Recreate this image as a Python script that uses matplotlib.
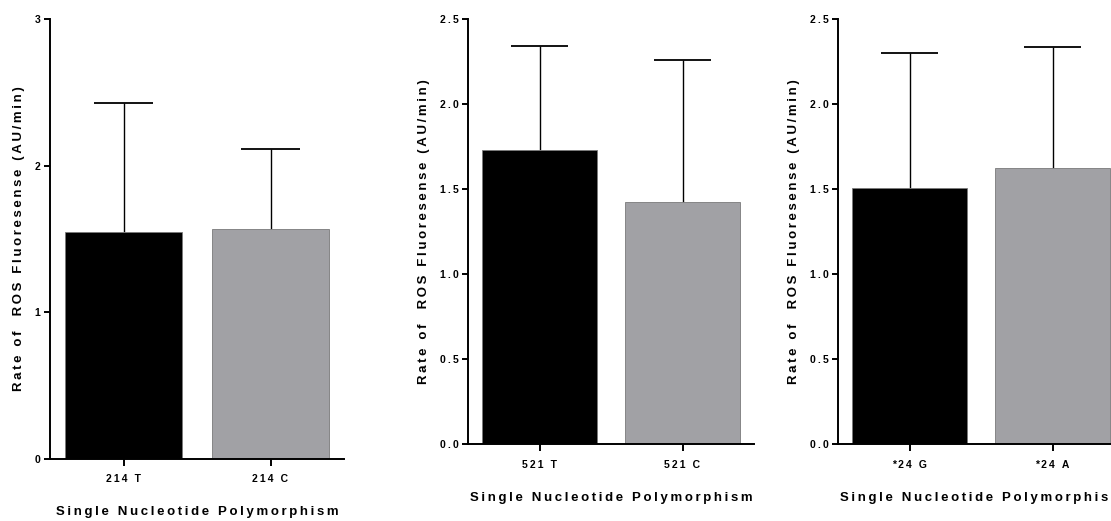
import numpy as np
import matplotlib.pyplot as plt

plt.rcParams['font.family'] = ['Liberation Sans', 'DejaVu Sans']
plt.rcParams['font.weight'] = 'bold'

# --- data
labels_214 = ['214 T', '214 C']
mean_214 = [1.545, 1.566]
sd_214 = [0.885, 0.55]

labels_521 = ['521 T', '521 C']
mean_521 = [1.732, 1.424]
sd_521 = [0.61, 0.833]

labels_24 = ['*24 G', '*24 A']
mean_24 = [1.505, 1.626]
sd_24 = [0.795, 0.711]

colors = ['#000000', '#a1a1a5']
ylab = 'Rate of  ROS Fluoresense (AU/min)'
xlab = 'Single Nucleotide Polymorphism'

def spaced(s):
    # prism style letter spacing
    return '\u2009'.join(s)

W, H = 1111, 521
fig = plt.figure(figsize=(W / 100, H / 100), dpi=100)

def px_axes(left, right, top, bottom):
    return fig.add_axes([left / W, 1 - bottom / H, (right - left) / W, (bottom - top) / H])

panels = [
    (px_axes(50, 344, 19, 459), labels_214, mean_214, sd_214, [0, 1, 2, 3], ['0', '1', '2', '3'], 3),
    (px_axes(468, 754, 19, 444.3), labels_521, mean_521, sd_521,
     [0, 0.5, 1, 1.5, 2, 2.5], ['0.0', '0.5', '1.0', '1.5', '2.0', '2.5'], 2.5),
    (px_axes(838, 1124, 19, 444.3), labels_24, mean_24, sd_24,
     [0, 0.5, 1, 1.5, 2, 2.5], ['0.0', '0.5', '1.0', '1.5', '2.0', '2.5'], 2.5),
]

bw = 0.8
for ax, labs, m, sd, yt, ytl, ymax in panels:
    x = np.arange(len(labs))
    m = np.array(m)
    sd = np.array(sd)
    ax.bar(x, m, width=bw, color=colors, edgecolor='#7a7a7a', linewidth=0.6, zorder=2)
    # upper error bars only
    ax.vlines(x, m, m + sd, color='black', linewidth=1, zorder=1)
    ax.hlines(m + sd, x - bw / 4, x + bw / 4, color='black', linewidth=1.3, zorder=1)
    ax.set_xlim(-0.5, 1.5)
    ax.set_ylim(0, ymax)
    ax.set_xticks(x)
    ax.set_xticklabels([spaced(s) for s in labs], fontsize=7.5, fontweight='bold')
    ax.set_yticks(yt)
    ax.set_yticklabels([spaced(s) for s in ytl], fontsize=7.5, fontweight='bold')
    for s in ['top', 'right']:
        ax.spines[s].set_visible(False)
    for s in ['left', 'bottom']:
        ax.spines[s].set_linewidth(1.4)
    ax.tick_params(axis='y', length=4, width=1.4, pad=3)
    ax.tick_params(axis='x', length=5, width=1.4, pad=6)
    ax.set_ylabel(spaced(ylab), fontsize=9.5, fontweight='bold', labelpad=6.5)
    ax.set_xlabel(spaced(xlab), fontsize=9.5, fontweight='bold', labelpad=16)

plt.savefig('out.png', dpi=100)
